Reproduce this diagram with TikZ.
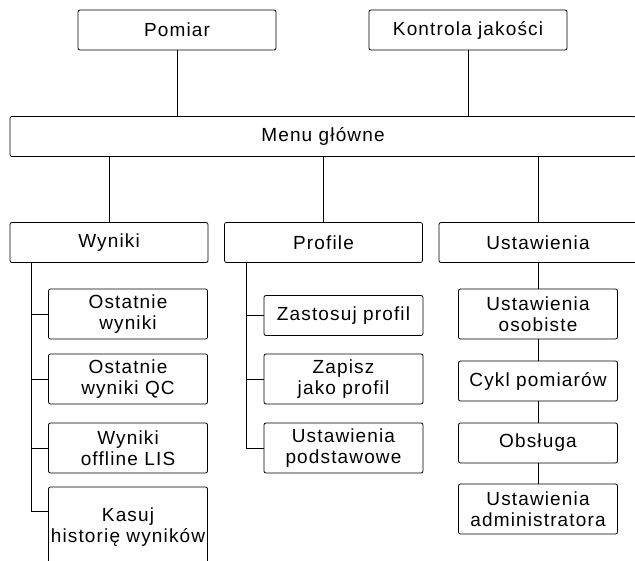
\documentclass[tikz,border=0pt]{standalone}
\usepackage{fontspec}
\setmainfont{Liberation Sans}[LetterSpace=6]
\usepackage{tikz}
\usetikzlibrary{positioning,calc}
\tikzset{
  menubox/.style={draw, rounded corners=2pt, align=center,
    font=\fontsize{19}{21.5}\selectfont,
    minimum width=198pt, minimum height=40pt, inner sep=0pt, fill=white, line width=0.8pt},
  subbox/.style={menubox, minimum width=159pt},
  tallbox/.style={subbox, minimum height=50pt},
  menulink/.style={line width=0.8pt},
}

\begin{document}
\begin{tikzpicture}[x=1pt, y=-1pt]
  \useasboundingbox (0,0) rectangle (635,560);
  \clip (0,0) rectangle (635,560);
  % poziom górny
  \node[menubox] (pomiar) at (177,30) {Pomiar};
  \node[menubox] (kontrola) at (468,30) {Kontrola jakości};
  \node[menubox, minimum width=626pt] (menu) at (323,136.5) {Menu główne};
  \draw[menulink] (pomiar) -- (pomiar |- menu.north);
  \draw[menulink] (kontrola) -- (kontrola |- menu.north);
  % kolumny menu
  \node[menubox] (wyniki) at (109,242.5) {Wyniki};
  \node[menubox] (profile) at (323.5,242.5) {Profile};
  \node[menubox] (ustawienia) at (538,242.5) {Ustawienia};
  \foreach \n in {wyniki,profile,ustawienia}
    \draw[menulink] (menu.south -| \n) -- (\n);
  % Wyniki
  \node[tallbox] (ostatnie) at (128,314) {Ostatnie\\wyniki};
  \node[tallbox] (ostatnieqc) at (128,379) {Ostatnie\\wyniki QC};
  \node[tallbox] (offline) at (128,448) {Wyniki\\offline LIS};
  \node[subbox, minimum height=80pt] (kasuj) at (128,527) {Kasuj\\historię wyników};
  \coordinate (wtrunk) at ([xshift=22pt]wyniki.south west);
  \draw[menulink] (wtrunk) |- ([yshift=-25pt]kasuj.north west);
  \foreach \n in {ostatnie,ostatnieqc,offline}
    \draw[menulink] (wtrunk |- \n.west) -- (\n.west);
  % Profile
  \node[subbox] (zastosuj) at (343.5,315.5) {Zastosuj profil};
  \node[tallbox] (zapisz) at (343.5,379) {Zapisz\\jako profil};
  \node[tallbox] (podstawowe) at (343.5,448) {Ustawienia\\podstawowe};
  \coordinate (ptrunk) at ([xshift=22pt]profile.south west);
  \draw[menulink] (ptrunk) |- (podstawowe.west);
  \foreach \n in {zastosuj,zapisz}
    \draw[menulink] (ptrunk |- \n.west) -- (\n.west);
  % Ustawienia
  \node[tallbox] (osobiste) at (538,314) {Ustawienia\\osobiste};
  \node[subbox] (cykl) at (538,381) {Cykl pomiarów};
  \node[subbox] (obsluga) at (538,443) {Obsługa};
  \node[tallbox] (admin) at (538,509) {Ustawienia\\administratora};
  \draw[menulink] (ustawienia) -- (osobiste) -- (cykl) -- (obsluga) -- (admin);
\end{tikzpicture}
\end{document}
